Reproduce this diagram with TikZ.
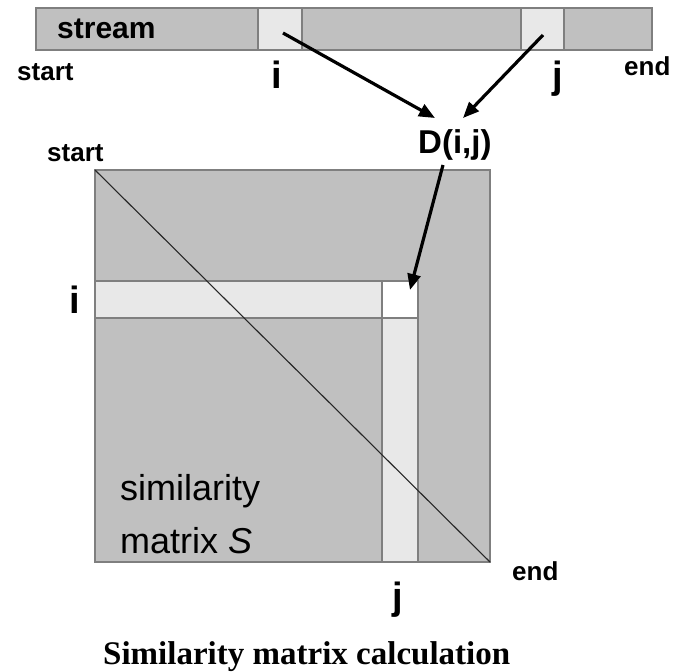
\documentclass[tikz,border=0pt]{standalone}
\usepackage{fontspec}
\setmainfont{Liberation Sans}
\newfontfamily\capfont{Liberation Serif}
\usetikzlibrary{arrows.meta}
\definecolor{barfill}{HTML}{C0C0C0}
\definecolor{lightfill}{HTML}{E8E8E8}
\definecolor{edgegray}{HTML}{7F7F7F}
\begin{document}
\begin{tikzpicture}[x=1pt,y=-1pt,
  cellbox/.style={draw=edgegray, line width=1.3pt},
  lblsmall/.style={inner sep=0pt, font=\bfseries\fontsize{26}{30}\selectfont},
  lblbig/.style={inner sep=0pt, font=\bfseries\fontsize{38}{44}\selectfont},
  lblmid/.style={inner sep=0pt, font=\bfseries\fontsize{33}{38}\selectfont},
  lblstream/.style={inner sep=0pt, font=\bfseries\fontsize{30}{34}\selectfont},
  lblmatrix/.style={inner sep=0pt, font=\fontsize{36}{42}\selectfont},
  lblcap/.style={inner sep=0pt, font=\capfont\bfseries\fontsize{33}{38}\selectfont},
  arr/.style={line width=3.2pt, -{Triangle[length=16pt,width=13pt]}}]
\useasboundingbox (0,0) rectangle (672,672);
% stream bar
\draw[cellbox, fill=barfill] (36,8) rectangle (652,50);
\draw[cellbox, fill=lightfill] (258,8) rectangle (302,50);
\draw[cellbox, fill=lightfill] (521,8) rectangle (564,50);
\node[lblstream, anchor=base west] (stream) at (57,38) {stream};
\node[lblsmall, anchor=base west] (start1) at (17,80) {start};
\node[lblbig, anchor=base] (i1) at (277,88) {i};
\node[lblbig, anchor=base] (j1) at (558,88) {j};
\node[lblsmall, anchor=base west] (end1) at (624,75) {end};
% D(i,j)
\node[lblmid, anchor=base west] (D) at (418,153) {D(i,j)};
% matrix
\draw[cellbox, fill=barfill] (95,170) rectangle (490,562);
\draw[cellbox, fill=lightfill] (95,281) rectangle (418,318);
\draw[cellbox, fill=lightfill] (382,281) rectangle (418,562);
\draw[cellbox, fill=white] (382,281) rectangle (418,318);
\coordinate (mstart) at (95,170);
\coordinate (mend) at (490,562);
\draw[line width=1.1pt, black!85] (mstart) -- (mend);
\node[lblsmall, anchor=base west] (start2) at (47,161) {start};
\node[lblbig, anchor=base] (i2) at (75,313) {i};
\node[lblbig, anchor=base] (j2) at (398,609) {j};
\node[lblsmall, anchor=base west] (end2) at (512,580) {end};
\node[lblmatrix, anchor=base west] (sim) at (120,500) {similarity};
\node[lblmatrix, anchor=base west] (mat) at (120,553) {matrix \textit{S}};
\node[lblcap, anchor=base west] (cap) at (103,664) {Similarity matrix calculation};
% arrows
\coordinate (ci) at (283,33);
\coordinate (cj) at (543,35);
\coordinate (d1) at (435,118);
\coordinate (d2) at (463,118);
\coordinate (dout) at (443,165);
\coordinate (cell) at (410,290);
\draw[arr] (ci) -- (d1);
\draw[arr] (cj) -- (d2);
\draw[arr] (dout) -- (cell);
\end{tikzpicture}
\end{document}
